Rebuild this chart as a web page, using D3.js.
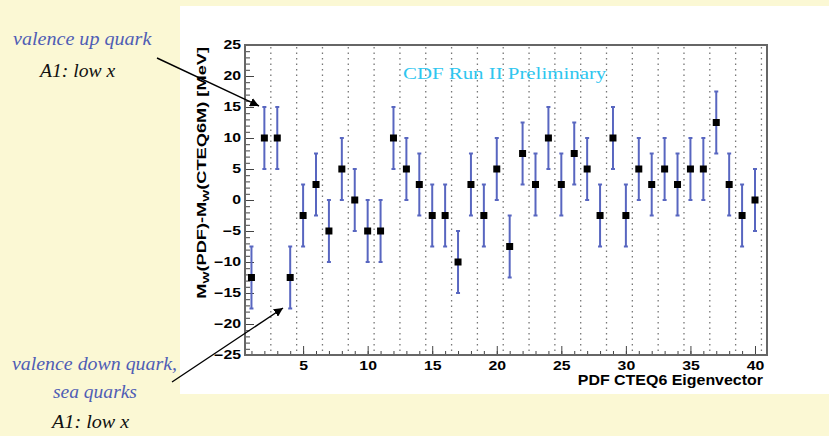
<!DOCTYPE html>
<html>
<head>
<meta charset="utf-8">
<script src="https://cdn.jsdelivr.net/npm/d3@7"></script>
<style>
  body { margin: 0; background: #fbf8d4; }
  svg { display: block; }
  .tick text { font-family: "Liberation Sans", Arial, sans-serif; font-weight: bold; font-size: 12px; fill: #000; }
</style>
</head>
<body>
<svg id="chart" width="829" height="436"></svg>
<script>
// eigenvector index, shift in M_W and its uncertainty (MeV)
var eigenvectors = d3.range(1, 41);
var deltaMW = [-12.5, 10, 10, -12.5, -2.5, 2.5, -5, 5, 0, -5,
               -5, 10, 5, 2.5, -2.5, -2.5, -10, 2.5, -2.5, 5,
               -7.5, 7.5, 2.5, 10, 2.5, 7.5, 5, -2.5, 10, -2.5,
               5, 2.5, 5, 2.5, 5, 5, 12.5, 2.5, -2.5, 0];
var errMW = [5, 5, 5, 5, 5, 5, 5, 5, 5, 5,
             5, 5, 5, 5, 5, 5, 5, 5, 5, 5,
             5, 5, 5, 5, 5, 5, 5, 5, 5, 5,
             5, 5, 5, 5, 5, 5, 5, 5, 5, 5];
var xTickLabels = [5, 10, 15, 20, 25, 30, 35, 40];
var yTickLabels = [-25, -20, -15, -10, -5, 0, 5, 10, 15, 20, 25];
var gridAt = d3.range(2.5, 41, 2);

var data = eigenvectors.map(function(e, i) {
  return { x: e, y: deltaMW[i], err: errMW[i] };
});

var svg = d3.select("#chart");

// the picture is stretched sideways, so text gets squeezed to the measured width
function fit(t, x, y, width, rot) {
  var w = t.node().getBBox().width;
  t.attr("transform", "translate(" + x + "," + y + ")" + (rot ? " rotate(" + rot + ")" : "") +
         " scale(" + (width / w) + ",1)");
  return t;
}

// white panel
svg.append("rect").attr("x", 180).attr("y", 6).attr("width", 649).attr("height", 388).attr("fill", "#fff");

var x = d3.scaleLinear().domain([0.5, 40.93]).range([245, 767]);
var y = d3.scaleLinear().domain([-25, 25]).range([355, 45]);

// dotted grid
svg.append("g").selectAll("line")
  .data(gridAt)
  .enter().append("line")
  .attr("x1", function(d) { return x(d); })
  .attr("x2", function(d) { return x(d); })
  .attr("y1", y(25) + 2)
  .attr("y2", y(-25))
  .attr("stroke", "#777")
  .attr("stroke-width", 1.3)
  .attr("stroke-dasharray", "1.5,4");

// minor ticks
svg.append("g")
  .attr("transform", "translate(" + x.range()[0] + ",0)")
  .call(d3.axisLeft(y).tickValues(d3.range(-25, 26, 1)).tickSize(-5).tickFormat(""))
  .call(function(g) { g.select(".domain").remove(); g.selectAll("line").attr("stroke", "#444"); });
svg.append("g")
  .attr("transform", "translate(0," + y.range()[0] + ")")
  .call(d3.axisBottom(x).tickValues(d3.range(1, 41, 1)).tickSize(-4).tickFormat(""))
  .call(function(g) { g.select(".domain").remove(); g.selectAll("line").attr("stroke", "#444"); });

// major ticks with labels
svg.append("g")
  .attr("transform", "translate(" + x.range()[0] + ",0)")
  .call(d3.axisLeft(y).tickValues(yTickLabels).tickSize(-9).tickPadding(0).tickFormat(d3.format("d")))
  .call(function(g) {
    g.select(".domain").remove();
    g.selectAll("line").attr("stroke", "#444");
    g.selectAll("text").attr("x", 0).attr("transform", "translate(-4,0) scale(1.32,1)");
  });
svg.append("g")
  .attr("transform", "translate(0," + y.range()[0] + ")")
  .call(d3.axisBottom(x).tickValues(xTickLabels).tickSize(-9).tickPadding(6).tickFormat(d3.format("d")))
  .call(function(g) {
    g.select(".domain").remove();
    g.selectAll("line").attr("stroke", "#444");
    g.selectAll("text").attr("transform", "scale(1.32,1)");
  });

// frame
svg.append("rect")
  .attr("x", x.range()[0]).attr("y", y.range()[1])
  .attr("width", x.range()[1] - x.range()[0])
  .attr("height", y.range()[0] - y.range()[1])
  .attr("fill", "none").attr("stroke", "#666").attr("stroke-width", 2);

// error bars
var bars = svg.append("g").attr("stroke", "#5866c0").attr("stroke-width", 2);
bars.selectAll("line.err")
  .data(data)
  .enter().append("line")
  .attr("class", "err")
  .attr("x1", function(d) { return x(d.x); })
  .attr("x2", function(d) { return x(d.x); })
  .attr("y1", function(d) { return y(d.y + d.err); })
  .attr("y2", function(d) { return y(d.y - d.err); });
bars.selectAll("line.capt")
  .data(data)
  .enter().append("line")
  .attr("class", "capt")
  .attr("x1", function(d) { return x(d.x) - 2; })
  .attr("x2", function(d) { return x(d.x) + 2; })
  .attr("y1", function(d) { return y(d.y + d.err); })
  .attr("y2", function(d) { return y(d.y + d.err); });
bars.selectAll("line.capb")
  .data(data)
  .enter().append("line")
  .attr("class", "capb")
  .attr("x1", function(d) { return x(d.x) - 2; })
  .attr("x2", function(d) { return x(d.x) + 2; })
  .attr("y1", function(d) { return y(d.y - d.err); })
  .attr("y2", function(d) { return y(d.y - d.err); });

// markers
svg.append("g").selectAll("rect")
  .data(data)
  .enter().append("rect")
  .attr("x", function(d) { return x(d.x) - 3.5; })
  .attr("y", function(d) { return y(d.y) - 3.5; })
  .attr("width", 7).attr("height", 7)
  .attr("fill", "#000");

// axis titles
var yt = svg.append("text")
  .attr("text-anchor", "end")
  .attr("font-family", "Liberation Sans, Arial, sans-serif")
  .attr("font-weight", "bold")
  .attr("font-size", 13);
yt.append("tspan").text("M");
yt.append("tspan").attr("font-size", 9).attr("dy", 3).text("W");
yt.append("tspan").attr("dy", -3).text("(PDF)-M");
yt.append("tspan").attr("font-size", 9).attr("dy", 3).text("W");
yt.append("tspan").attr("dy", -3).text("(CTEQ6M) [MeV]");
fit(yt, 206, y(25) + 2, 252, -90);

var xt = svg.append("text")
  .attr("text-anchor", "end")
  .attr("font-family", "Liberation Sans, Arial, sans-serif")
  .attr("font-weight", "bold")
  .attr("font-size", 14)
  .text("PDF CTEQ6 Eigenvector");
fit(xt, 763, 385, 186);

var cdf = svg.append("text")
  .attr("text-anchor", "start")
  .attr("font-family", "Liberation Serif, Times New Roman, serif")
  .attr("font-size", 17)
  .attr("fill", "#2ec6ef")
  .text("CDF Run II Preliminary");
fit(cdf, 403, 79, 204);

// annotations
var notes = [
  { text: "valence up quark",    x: 13, y: 45,  w: 139, color: "#4f5db5" },
  { text: "A1: low x",           x: 40, y: 77,  w: 78,  color: "#111" },
  { text: "valence down quark,", x: 12, y: 370, w: 165, color: "#4f5db5" },
  { text: "sea quarks",          x: 53, y: 398, w: 84,  color: "#4f5db5" },
  { text: "A1: low x",           x: 52, y: 428, w: 80,  color: "#111" }
];
notes.forEach(function(n) {
  var t = svg.append("text")
    .attr("font-family", "Liberation Serif, Times New Roman, serif")
    .attr("font-style", "italic")
    .attr("font-size", 19)
    .attr("fill", n.color)
    .text(n.text);
  fit(t, n.x, n.y, n.w);
});

svg.append("defs").append("marker")
  .attr("id", "arrow")
  .attr("viewBox", "0 0 10 10")
  .attr("refX", 10).attr("refY", 5)
  .attr("markerWidth", 9).attr("markerHeight", 9)
  .attr("markerUnits", "userSpaceOnUse")
  .attr("orient", "auto")
  .append("path").attr("d", "M0,0 L10,5 L0,10 z").attr("fill", "#000");

svg.append("line").attr("x1", 157).attr("y1", 58).attr("x2", 259).attr("y2", 106)
  .attr("stroke", "#000").attr("stroke-width", 1.4).attr("marker-end", "url(#arrow)");
svg.append("line").attr("x1", 172).attr("y1", 382).attr("x2", 283).attr("y2", 308)
  .attr("stroke", "#000").attr("stroke-width", 1.4).attr("marker-end", "url(#arrow)");
</script>
</body>
</html>
